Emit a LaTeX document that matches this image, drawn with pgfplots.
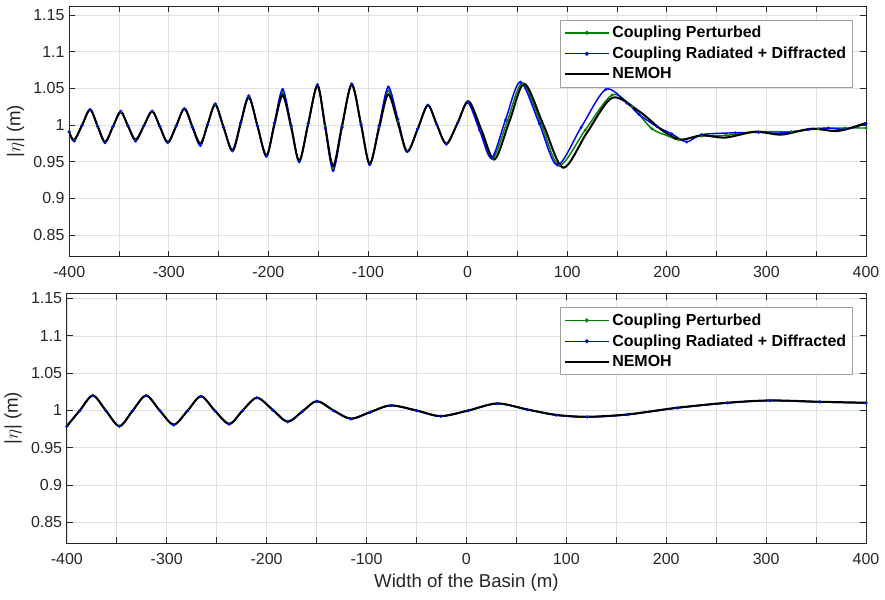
\documentclass[border=0pt]{standalone}
\usepackage{pgfplots}
\pgfplotsset{compat=1.18}
\usepackage{pgfplotstable}
\usepackage{fontspec}
\setmainfont{Liberation Sans}
\definecolor{mgreen}{rgb}{0,0.5,0}
\definecolor{axgray}{rgb}{0.15,0.15,0.15}
\definecolor{gridgray}{rgb}{0.88,0.88,0.88}

% ---------------- top panel ----------------
\pgfplotstableread{
x y
-400 0.990
-395 0.9795
-387 1.000
-379 1.0214
-371.5 0.999
-364 0.977
-356 0.998
-348.3 1.018
-341 0.999
-333.3 0.980
-325 0.999
-316.7 1.019
-309 0.998
-301 0.976
-292.5 0.999
-284.3 1.0228
-276.5 0.999
-268.3 0.9745
-261 1.001
-253.3 1.028
-245 0.997
-236 0.9645
-228 1.001
-219.7 1.038
-211 0.999
-202 0.958
-194 1.000
-185.7 1.041
-177 0.996
-169 0.951
-160 1.002
-150.7 1.054
-143 0.999
-135 0.944
-126 1.000
-116.3 1.0555
-107 1.001
-98.3 0.947
-89 0.995
-79.7 1.042
-70 1.003
-60.7 0.9636
-50 0.995
-40 1.0273
-31 1.001
-21.3 0.9745
-10 1.003
1 1.0327
14 0.993
27 0.953
42 1.005
57 1.0564
76.5 0.999
96 0.9418
120 0.990
145.3 1.0373
172 1.019
192 0.9964
202 0.987
215 0.980
235 0.986
259 0.983
289 0.991
315 0.987
345 0.995
372 0.992
400 1.003
}\topK

\pgfplotstableread{
x y
-400 0.991
-395 0.978
-387 1.000
-379 1.021
-371.5 0.998
-364 0.976
-356 0.998
-348.3 1.019
-341 0.999
-333.3 0.978
-325 0.999
-316.7 1.019
-309 0.998
-301 0.977
-292.5 0.999
-284.3 1.022
-276.5 0.997
-268.3 0.972
-261 1.001
-253.3 1.029
-245 0.997
-236 0.966
-228 1.003
-219.7 1.040
-211 0.999
-202 0.958
-194 1.003
-185.7 1.0487
-177 0.999
-169 0.950
-160 1.002
-150.7 1.055
-143 0.996
-135 0.938
-126 0.997
-116.3 1.056
-107 1.001
-98.3 0.946
-89 0.999
-79.7 1.052
-70 1.008
-60.7 0.964
-50 0.995
-40 1.027
-31 1.001
-21.3 0.974
-10 1.003
0 1.031
12 0.993
24 0.955
38 1.007
53 1.0587
72 1.002
90 0.9454
114 0.997
138.7 1.0487
160 1.030
172 1.0146
190 0.998
205 0.988
220 0.977
235 0.987
269 0.9895
292 0.990
315 0.989
342 0.994
362 0.996
379 0.994
400 1.002
}\topB

\pgfplotstableread{
x y
-400 0.990
-395 0.9790
-387 1.000
-379 1.0212
-371.5 0.999
-364 0.977
-356 0.998
-348.3 1.018
-341 0.999
-333.3 0.979
-325 0.999
-316.7 1.019
-309 0.998
-301 0.976
-292.5 0.999
-284.3 1.0225
-276.5 0.998
-268.3 0.973
-261 1.001
-253.3 1.028
-245 0.997
-236 0.965
-228 1.002
-219.7 1.039
-211 0.999
-202 0.957
-194 1.002
-185.7 1.045
-177 0.998
-169 0.950
-160 1.002
-150.7 1.055
-143 0.998
-135 0.941
-126 0.998
-116.3 1.056
-107 1.001
-98.3 0.946
-89 0.997
-79.7 1.047
-70 1.005
-60.7 0.964
-50 0.995
-40 1.027
-31 1.001
-21.3 0.974
-10 1.003
1 1.032
13 0.993
25 0.954
40 1.006
55 1.057
74 1.001
92 0.945
118 0.993
145 1.041
165 1.025
185 0.995
202 0.985
212 0.980
235 0.985
259 0.986
292 0.991
325 0.991
352 0.995
379 0.996
400 0.996
}\topG

% ---------------- bottom panel ----------------
\pgfplotstableread{
x y
-400 0.979
-387 1.000
-374 1.020
-361 1.000
-347.4 0.979
-334 1.000
-320.7 1.020
-307 1.000
-293 0.981
-279 1.000
-265.7 1.019
-252 1.000
-237.4 0.982
-224 1.000
-209.7 1.017
-194 1.001
-179 0.985
-164 0.999
-149.7 1.0125
-133 1.000
-115.7 0.989
-96 0.998
-75.7 1.0067
-50 1.000
-25.7 0.9924
2 1.000
31 1.0094
61 1.0013
90 0.994
121 0.9915
161 0.9946
211 1.0036
261 1.0103
304 1.0134
354 1.0116
400 1.0103
}\botK

\pgfplotstableread{
x y
-400 0.9785
-387 0.9995
-374 1.0198
-361 0.9995
-347.4 0.9785
-334 0.9995
-320.7 1.0198
-307 0.9995
-293 0.9805
-279 0.9995
-265.7 1.0188
-252 0.9995
-237.4 0.9815
-224 0.9995
-209.7 1.0168
-194 1.0005
-179 0.9845
-164 0.9985
-149.7 1.0122
-133 0.9995
-115.7 0.9885
-96 0.9975
-75.7 1.0064
-50 0.9995
-25.7 0.9920
2 0.9996
31 1.0090
61 1.0009
90 0.9935
121 0.9910
161 0.9941
211 1.0032
261 1.0099
304 1.0130
354 1.0112
400 1.0100
}\botB

\pgfplotstableread{
x y
-400 0.9788
-387 0.9998
-374 1.0200
-361 0.9998
-347.4 0.9788
-334 0.9998
-320.7 1.0200
-307 0.9998
-293 0.9808
-279 0.9998
-265.7 1.0190
-252 0.9998
-237.4 0.9818
-224 0.9998
-209.7 1.0170
-194 1.0008
-179 0.9848
-164 0.9988
-149.7 1.0124
-133 0.9998
-115.7 0.9888
-96 0.9978
-75.7 1.0066
-50 0.9998
-25.7 0.9922
2 0.9998
31 1.0092
61 1.0011
90 0.9938
121 0.9913
161 0.9944
211 1.0034
261 1.0101
304 1.0132
354 1.0114
400 1.0101
}\botG

\pgfplotsset{
  myaxis/.style={
    scale only axis,
    xmin=-400, xmax=400,
    xtick={-400,-300,-200,-100,0,100,200,300,400},
    minor xtick={-350,-250,-150,-50,50,150,250,350},
    ytick={0.85,0.9,0.95,1,1.05,1.1,1.15},
    grid=both,
    major grid style={gridgray, line width=0.5pt},
    minor grid style={gridgray, line width=0.5pt},
    axis line style={axgray, line width=0.6pt},
    every tick/.style={axgray, line width=0.6pt},
    major tick length=4.5pt, minor tick length=4.5pt,
    tick align=inside,
    /pgf/number format/assume math mode=true,
    ticklabel style={font=\fontsize{12}{14}\selectfont, text=axgray},
    xticklabel style={yshift=-4pt},
    yticklabel style={/pgf/number format/fixed},
    label style={font=\fontsize{14}{16}\selectfont, text=axgray},
    legend style={at={(rel axis cs:0.983,0.945)}, anchor=north east,
      draw=gray!75, fill=white,
      font=\bfseries\fontsize{12}{14}\selectfont,
      inner sep=2.5pt, row sep=1.5pt},
    legend cell align=left,
    ylabel={|$\eta$| (m)},
  },
  greenleg/.style={legend image code/.code={
    \draw[mgreen, line width=1.1pt] (0cm,0cm) -- (1.15cm,0cm);
    \fill[mgreen] (0.575cm,0cm) circle (0.9pt);}},
  blueleg/.style={legend image code/.code={
    \draw[blue, line width=1.1pt] (0cm,0cm) -- (1.15cm,0cm);
    \fill[blue] (0.575cm,0cm) circle (0.9pt);}},
  blackleg/.style={legend image code/.code={
    \draw[black, line width=1.5pt] (0cm,0cm) -- (1.15cm,0cm);}},
}

\begin{document}
\begin{tikzpicture}
\begin{axis}[myaxis, name=top, at={(0pt,0pt)}, anchor=north west,
  width=598.5pt, height=188.25pt, ymin=0.8205, ymax=1.1625]
  \addplot[color=mgreen, line width=1.1pt, smooth, mark=*, mark size=0.45pt, greenleg] table[x=x,y=y] {\topG};
  \addlegendentry{Coupling Perturbed}
  \addplot[color=blue, line width=1.1pt, smooth, mark=*, mark size=0.45pt, blueleg] table[x=x,y=y] {\topB};
  \addlegendentry{Coupling Radiated + Diffracted}
  \addplot[color=black, line width=1.5pt, smooth, no marks, blackleg] table[x=x,y=y] {\topK};
  \addlegendentry{NEMOH}
\end{axis}
\begin{axis}[myaxis, name=bot, at={(-1.75pt,-216pt)}, anchor=north west,
  width=600.25pt, height=187.5pt, ymin=0.8218, ymax=1.1567,
  xlabel={Width of the Basin (m)}]
  \addplot[color=mgreen, line width=1.1pt, smooth, mark=*, mark size=0.45pt, greenleg] table[x=x,y=y] {\botG};
  \addlegendentry{Coupling Perturbed}
  \addplot[color=blue, line width=1.1pt, smooth, mark=*, mark size=0.45pt, blueleg] table[x=x,y=y] {\botB};
  \addlegendentry{Coupling Radiated + Diffracted}
  \addplot[color=black, line width=1.5pt, smooth, no marks, blackleg] table[x=x,y=y] {\botK};
  \addlegendentry{NEMOH}
\end{axis}
\path (-51pt,4.5pt) rectangle (612.75pt,-445.5pt);
\end{tikzpicture}
\end{document}
